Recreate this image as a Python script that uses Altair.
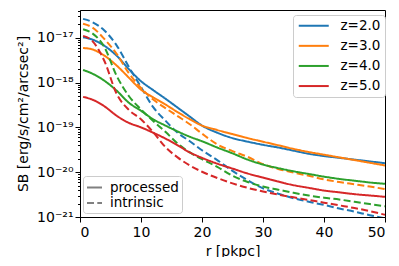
import altair as alt
import pandas as pd

# radius grid [pkpc]
r = [0.5, 2, 4, 6, 8, 10, 12, 14, 16, 18, 20, 22.5, 25, 27.5, 30, 32.5, 35, 37.5, 40, 42.5, 45, 47.5, 50]

# log10 SB
z2_processed = [-16.99, -17.04, -17.18, -17.40, -17.70, -17.97, -18.17, -18.36, -18.56, -18.76, -18.96, -19.12,
                -19.24, -19.32, -19.39, -19.45, -19.52, -19.59, -19.64, -19.68, -19.72, -19.76, -19.80]
z3_processed = [-17.23, -17.26, -17.40, -17.62, -17.89, -18.16, -18.33, -18.49, -18.66, -18.82, -18.96, -19.06,
                -19.15, -19.24, -19.32, -19.40, -19.48, -19.55, -19.61, -19.67, -19.73, -19.79, -19.85]
z4_processed = [-17.72, -17.80, -17.96, -18.18, -18.45, -18.63, -18.82, -18.96, -19.09, -19.21, -19.31, -19.45,
                -19.58, -19.72, -19.83, -19.91, -19.98, -20.04, -20.10, -20.15, -20.19, -20.23, -20.26]
z5_processed = [-18.32, -18.38, -18.53, -18.74, -18.90, -19.00, -19.12, -19.25, -19.40, -19.56, -19.68, -19.81,
                -19.92, -20.03, -20.12, -20.21, -20.29, -20.35, -20.41, -20.45, -20.49, -20.52, -20.55]
z2_intrinsic = [-16.58, -16.65, -16.84, -17.17, -17.65, -18.10, -18.55, -18.85, -19.12, -19.31, -19.51, -19.73,
                -19.97, -20.18, -20.36, -20.48, -20.58, -20.66, -20.73, -20.81, -20.88, -20.96, -21.03]
z3_intrinsic = [-16.69, -16.77, -17.03, -17.36, -17.79, -18.12, -18.38, -18.57, -18.75, -18.93, -19.14, -19.38,
                -19.53, -19.66, -19.82, -19.93, -20.01, -20.08, -20.16, -20.22, -20.27, -20.32, -20.38]
z4_intrinsic = [-16.81, -16.90, -17.21, -17.85, -18.30, -18.60, -18.86, -19.10, -19.36, -19.56, -19.71, -19.88,
                -20.08, -20.22, -20.32, -20.39, -20.46, -20.52, -20.57, -20.61, -20.66, -20.71, -20.76]
z5_intrinsic = [-16.96, -17.07, -17.52, -18.25, -18.61, -18.82, -19.11, -19.44, -19.67, -19.85, -19.99, -20.13,
                -20.25, -20.35, -20.43, -20.50, -20.56, -20.62, -20.68, -20.74, -20.80, -20.87, -20.95]

z_labels = ["z=2.0", "z=3.0", "z=4.0", "z=5.0"]
colors = ["#1f77b4", "#ff7f0e", "#2ca02c", "#d62728"]
kinds = ["processed", "intrinsic"]

series = [
    ("z=2.0", z2_processed, z2_intrinsic),
    ("z=3.0", z3_processed, z3_intrinsic),
    ("z=4.0", z4_processed, z4_intrinsic),
    ("z=5.0", z5_processed, z5_intrinsic),
]
rows = []
for z, proc, intr in series:
    for ri, p in zip(r, proc):
        rows.append({"r": ri, "SB": 10 ** p, "z": z, "kind": "processed"})
    for ri, i in zip(r, intr):
        rows.append({"r": ri, "SB": 10 ** i, "z": z, "kind": "intrinsic"})
df = pd.DataFrame(rows)

ytick_values = []
for e in range(-21, -16):
    for k in range(1, 10):
        v = k * 10.0 ** e
        if v <= 4.1e-17:
            ytick_values.append(v)

E = "round(log(datum.value)/LN10)"
is_dec = f"abs(log(datum.value)/LN10 - {E}) < 0.01"
sup = {-17: "10⁻¹⁷", -18: "10⁻¹⁸", -19: "10⁻¹⁹", -20: "10⁻²⁰", -21: "10⁻²¹"}
lab = "''"
for e, s in sup.items():
    lab = f"{E} == {e} ? '{s}' : ({lab})"
label_expr = f"{is_dec} ? ({lab}) : ''"

FONT = "DejaVu Sans"

chart = alt.Chart(df).mark_line(strokeWidth=2, clip=True, interpolate="monotone").encode(
    x=alt.X("r:Q", scale=alt.Scale(domain=[0, 50], nice=False),
            axis=alt.Axis(values=[0, 10, 20, 30, 40, 50], title="r [pkpc]", grid=False,
                          tickSize=5, labelPadding=3, titlePadding=5)),
    y=alt.Y("SB:Q", scale=alt.Scale(type="log", domain=[1e-21, 4.15e-17], nice=False),
            axis=alt.Axis(values=ytick_values, labelExpr=label_expr, grid=False,
                          title="SB [erg/s/cm²/arcsec²]",
                          tickSize={"condition": {"test": is_dec, "value": 5}, "value": 2.5},
                          labelPadding=2, titlePadding=6)),
    color=alt.Color("z:N", scale=alt.Scale(domain=z_labels, range=colors),
                    legend=alt.Legend(title=None, orient="none", legendX=213, legendY=5,
                                      symbolType="M-1,0L5,0", symbolSize=100, symbolStrokeWidth=2,
                                      labelFontSize=13.5, labelFont=FONT, labelOffset=30,
                                      rowPadding=5.1, padding=4, strokeColor="#cccccc",
                                      fillColor="rgba(255,255,255,0.8)", cornerRadius=3)),
    strokeDash=alt.StrokeDash("kind:N", scale=alt.Scale(domain=kinds, range=[[1, 0], [7, 3.3]]),
                              legend=alt.Legend(title=None, orient="none", legendX=3, legendY=166,
                                                symbolType="stroke", symbolSize=225, symbolStrokeWidth=2,
                                                symbolStrokeColor="gray",
                                                labelFontSize=13.5, labelFont=FONT, labelOffset=7,
                                                rowPadding=0.5, padding=3, strokeColor="#cccccc",
                                                fillColor="rgba(255,255,255,0.8)", cornerRadius=3)),
).properties(
    width=305, height=207,
    autosize=alt.AutoSizeParams(type="none"),
    padding={"left": 72, "top": 2, "right": 6, "bottom": 40},
).configure_view(
    stroke="black", strokeWidth=1
).configure_axis(
    labelFont=FONT, titleFont=FONT, labelFontSize=14, titleFontSize=14,
    titleFontWeight="normal", labelColor="black", titleColor="black",
    domainColor="black", tickColor="black", domainWidth=1, tickWidth=1,
)

chart.save("out.html", embed_options={"renderer": "svg", "actions": False})
